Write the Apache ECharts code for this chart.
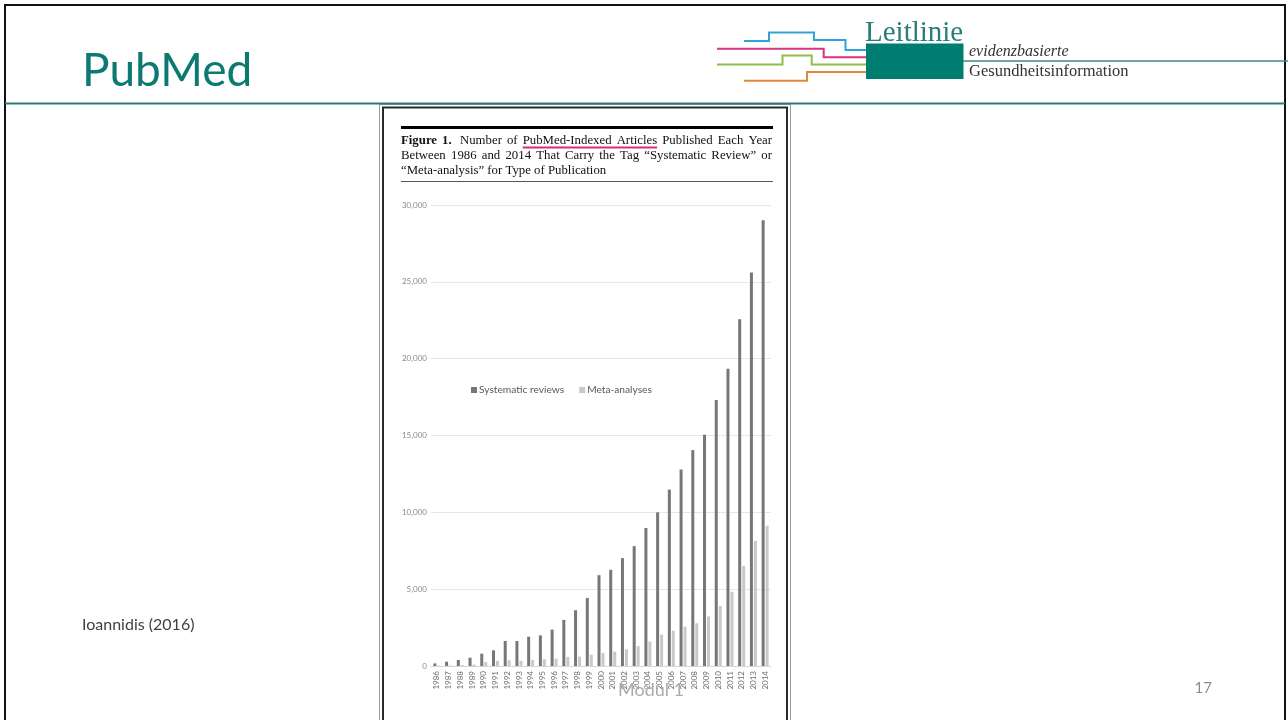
<!DOCTYPE html>
<html>
<head>
<meta charset="utf-8">
<title>PubMed</title>
<script src="https://cdn.jsdelivr.net/npm/echarts@6/dist/echarts.min.js"></script>
<style>
  html, body { margin: 0; padding: 0; background: #ffffff; }
  #chart { width: 1288px; height: 720px; }
</style>
</head>
<body>
<div id="chart"></div>
<script>
// Publication years
const years = ['1986','1987','1988','1989','1990','1991','1992','1993','1994','1995',
  '1996','1997','1998','1999','2000','2001','2002','2003','2004','2005',
  '2006','2007','2008','2009','2010','2011','2012','2013','2014'];

// PubMed-indexed articles tagged "Systematic Review"
const systematicReviews = [170, 280, 390, 540, 800, 1020, 1630, 1630, 1910, 1990,
  2370, 3000, 3630, 4430, 5910, 6260, 7020, 7800, 8980, 10000,
  11480, 12790, 14050, 15050, 17310, 19350, 22570, 25610, 29000];

// PubMed-indexed articles tagged "Meta-analysis"
const metaAnalyses = [30, 40, 60, 90, 260, 330, 370, 330, 390, 440,
  480, 590, 610, 740, 850, 935, 1090, 1300, 1590, 2040,
  2300, 2560, 2780, 3220, 3910, 4830, 6520, 8150, 9130];

// Value axis ticks
const yTicks = [0, 5000, 10000, 15000, 20000, 25000, 30000];

const seriesNames = ['Systematic reviews', 'Meta-analyses'];

// Caption lines; words prefixed with * are bold
const captionLines = [
  ['*Figure', '*1.', ' Number', 'of', 'PubMed-Indexed', 'Articles', 'Published', 'Each', 'Year'],
  ['Between', '1986', 'and', '2014', 'That', 'Carry', 'the', 'Tag', '\u201CSystematic', 'Review\u201D', 'or'],
  ['\u201CMeta-analysis\u201D', 'for', 'Type', 'of', 'Publication']
];

const chart = echarts.init(document.getElementById('chart'), null, { renderer: 'canvas' });

const sans = 'Lato, "Open Sans", sans-serif';
const serif = '"Liberation Serif", "DejaVu Serif", serif';
const capSize = 12.8;

// measure words so the first two caption lines can be set justified
const measureCtx = document.createElement('canvas').getContext('2d');
function wordFont(w) {
  return (w.startsWith('*') ? 'bold ' : '') + capSize + 'px ' + serif;
}
function wordText(w) { return w.replace(/^\*/, ''); }
function measure(w) {
  measureCtx.font = wordFont(w);
  return measureCtx.measureText(wordText(w)).width;
}

const capLeft = 401, capRight = 772;
const captionGraphics = [];
let underline = null;
captionLines.forEach((words, li) => {
  const y = 140.5 + li * 15;
  const widths = words.map(measure);
  const total = widths.reduce((a, b) => a + b, 0);
  const justify = li < captionLines.length - 1;
  measureCtx.font = capSize + 'px ' + serif;
  const space = measureCtx.measureText(' ').width;
  const gap = justify ? (capRight - capLeft - total) / (words.length - 1) : space;
  let x = capLeft;
  words.forEach((w, i) => {
    captionGraphics.push({
      type: 'text', x: x, y: y, z: 3,
      style: { text: wordText(w), fill: '#111', font: wordFont(w), textVerticalAlign: 'middle' }
    });
    if (li === 0 && w === 'PubMed-Indexed') underline = { x1: x, x2: 0 };
    if (li === 0 && w === 'Articles') underline.x2 = x + widths[i];
    x += widths[i] + gap;
  });
});
captionGraphics.push({ type: 'line', z: 4,
  shape: { x1: underline.x1, y1: 147.5, x2: underline.x2, y2: 147.5 },
  style: { stroke: '#e2287a', lineWidth: 2 } });

const graphics = [
  // slide frame
  { type: 'rect', shape: { x: 5, y: 5, width: 1280, height: 730 },
    style: { fill: 'none', stroke: '#111', lineWidth: 2 }, z: 1 },
  // header rule
  { type: 'line', shape: { x1: 5, y1: 103.5, x2: 1285, y2: 103.5 },
    style: { stroke: '#2c7a73', lineWidth: 2 }, z: 2 },
  // slide title
  { type: 'text', x: 82, y: 71,
    style: { text: 'PubMed', fill: '#0d7a72', font: '46px ' + sans, textVerticalAlign: 'middle' }, z: 3 },

  // logo: stepped coloured lines
  { type: 'polyline', shape: { points: [[744,41],[769,41],[769,32.5],[814,32.5],[814,40],[845.5,40],[845.5,50],[866,50]] },
    style: { stroke: '#2fa4dc', lineWidth: 2, fill: 'none' }, z: 3 },
  { type: 'polyline', shape: { points: [[717,48.7],[823.7,48.7],[823.7,57.3],[866,57.3]] },
    style: { stroke: '#d9347f', lineWidth: 2, fill: 'none' }, z: 3 },
  { type: 'polyline', shape: { points: [[717,64.5],[782.5,64.5],[782.5,55.5],[811.7,55.5],[811.7,64.5],[866,64.5]] },
    style: { stroke: '#8dbd4a', lineWidth: 2, fill: 'none' }, z: 3 },
  { type: 'polyline', shape: { points: [[744,80.7],[807,80.7],[807,72],[866,72]] },
    style: { stroke: '#e08a3c', lineWidth: 2, fill: 'none' }, z: 3 },
  { type: 'rect', shape: { x: 866, y: 43.5, width: 97.5, height: 35.5 },
    style: { fill: '#007d71' }, z: 4 },
  { type: 'line', shape: { x1: 963, y1: 61, x2: 1288, y2: 61 },
    style: { stroke: '#3f8a84', lineWidth: 1.5 }, z: 3 },
  { type: 'text', x: 865, y: 48,
    style: { text: 'Leitlinie', fill: '#2a7e77', font: '29px ' + serif, textVerticalAlign: 'bottom' }, z: 3 },
  { type: 'text', x: 969, y: 60,
    style: { text: 'evidenzbasierte', fill: '#333', font: 'italic 16px ' + serif, textVerticalAlign: 'bottom' }, z: 3 },
  { type: 'text', x: 969, y: 80,
    style: { text: 'Gesundheitsinformation', fill: '#333', font: '16.5px ' + serif, textVerticalAlign: 'bottom' }, z: 3 },

  // figure frame
  { type: 'rect', shape: { x: 379.5, y: 104.5, width: 411, height: 630 },
    style: { fill: '#fff', stroke: '#9a9a9a', lineWidth: 1 }, z: 0 },
  { type: 'rect', shape: { x: 383, y: 107.5, width: 404, height: 630 },
    style: { fill: 'none', stroke: '#2a2a2a', lineWidth: 2 }, z: 2 },

  // figure caption rules
  { type: 'line', shape: { x1: 401, y1: 127.5, x2: 773, y2: 127.5 },
    style: { stroke: '#000', lineWidth: 3 }, z: 3 },
  { type: 'line', shape: { x1: 401, y1: 181.5, x2: 773, y2: 181.5 },
    style: { stroke: '#555', lineWidth: 1 }, z: 3 },

  // source and footer
  { type: 'text', x: 82, y: 625,
    style: { text: 'Ioannidis (2016)', fill: '#404040', font: '16px ' + sans, textVerticalAlign: 'middle' }, z: 3 },
  { type: 'text', x: 618, y: 690,
    style: { text: 'Modul 1', fill: '#ababab', font: '18px ' + sans, textVerticalAlign: 'middle' }, z: 20 },
  { type: 'text', x: 1212, y: 688,
    style: { text: '17', fill: '#8c8c8c', font: '15px ' + sans, textVerticalAlign: 'middle', textAlign: 'right' }, z: 3 }
].concat(captionGraphics);

const option = {
  backgroundColor: '#ffffff',
  animation: false,
  graphic: { elements: graphics },
  legend: {
    data: seriesNames,
    left: 466, top: 380,
    icon: 'rect', itemWidth: 6, itemHeight: 6, itemGap: 15,
    textStyle: { color: '#595959', fontSize: 10.2, fontFamily: sans, padding: [0, 0, 0, -3] }
  },
  grid: { left: 431, top: 205, width: 340, bottom: 54, containLabel: false },
  xAxis: {
    type: 'category',
    data: years,
    axisLine: { show: true, lineStyle: { color: '#d6d6d6', width: 1 } },
    axisTick: { show: false },
    axisLabel: { rotate: 90, interval: 0, fontSize: 8, color: '#6e6e6e', fontFamily: sans, margin: 5 }
  },
  yAxis: {
    type: 'value',
    min: yTicks[0], max: yTicks[yTicks.length - 1], interval: 5000,
    axisLine: { show: false },
    axisTick: { show: false },
    splitLine: { lineStyle: { color: '#e6e6e6', width: 1 } },
    axisLabel: {
      fontSize: 8, color: '#8a8a8a', fontFamily: sans, margin: 4,
      formatter: v => v.toLocaleString('en-US')
    }
  },
  series: [
    { name: seriesNames[0], type: 'bar', data: systematicReviews,
      barWidth: 3, barGap: '33%', itemStyle: { color: '#777777' } },
    { name: seriesNames[1], type: 'bar', data: metaAnalyses,
      barWidth: 3, itemStyle: { color: '#c9c9c9' } }
  ]
};

chart.setOption(option);
</script>
</body>
</html>
